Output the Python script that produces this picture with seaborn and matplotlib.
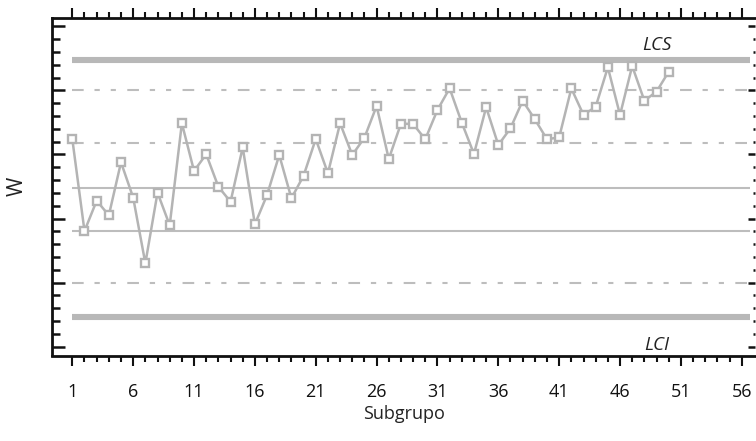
import matplotlib
matplotlib.use("Agg")
import matplotlib.pyplot as plt
from matplotlib.ticker import FixedLocator, MultipleLocator
import numpy as np
import pandas as pd
import seaborn as sns

# ---- data ----
subgroups = list(range(1, 51))
w_values = [16.19, 9.02, 11.39, 10.25, 14.39, 11.63, 6.50, 12.02, 9.47, 17.44,
            13.71, 15.02, 12.48, 11.31, 15.56, 9.55, 11.84, 14.96, 11.58, 13.34,
            16.21, 13.53, 17.44, 14.96, 16.31, 18.79, 14.65, 17.41, 17.38, 16.19,
            18.48, 20.17, 17.48, 15.04, 18.69, 15.74, 17.05, 19.20, 17.75, 16.19,
            16.34, 20.16, 18.09, 18.73, 21.81, 18.09, 21.91, 19.20, 19.91, 21.47]
lcs = 22.4
lci = 2.3
center_line = 12.4
upper_warn = 20.0
upper_sigma = 15.9
lower_sigma = 9.0
lower_warn = 5.0
x_tick_labels = [1, 6, 11, 16, 21, 26, 31, 36, 41, 46, 51, 56]
x_label = "Subgrupo"
y_label = "W"
lcs_label = "LCS"
lci_label = "LCI"

sns.set_theme(style="ticks")
plt.rcParams["font.family"] = ["Open Sans", "DejaVu Sans"]
plt.rcParams["lines.scale_dashes"] = False

W, H = 756, 441
fig = plt.figure(figsize=(W / 100, H / 100), dpi=100)
ax = fig.add_axes([52 / W, (H - 355.5) / H, (755 - 52) / W, (355.5 - 17.5) / H])

gray = "#b4b4b4"
x_end = 56.7

# control limits
ax.hlines([lcs, lci], 1, x_end, colors="#b8b8b8", linewidth=4.4, zorder=1)
dash = (0, (8.4, 7.8, 3.8, 7.9, 3.7, 8.2))
for yv in (upper_warn, upper_sigma, lower_warn):
    ax.plot([1, x_end], [yv, yv], color="#bdbdbd", linewidth=1.5,
            linestyle=dash, zorder=1)
ax.hlines([center_line, lower_sigma], 1, x_end, colors="#bdbdbd",
          linewidth=1.5, zorder=1)

df = pd.DataFrame({"Subgrupo": subgroups, "W": w_values})
sns.lineplot(data=df, x="Subgrupo", y="W", ax=ax, color=gray, linewidth=1.8,
             marker="s", markersize=6.3, markerfacecolor="white",
             markeredgecolor=gray, markeredgewidth=1.7, zorder=3)

ax.set_xlim(-0.67, 57.09)
ax.set_ylim(-0.7, 25.7)

# ticks
ax.xaxis.set_major_locator(FixedLocator(x_tick_labels))
ax.xaxis.set_minor_locator(FixedLocator(list(range(1, 57))))
ax.set_xticklabels([str(v) for v in x_tick_labels])
ax.yaxis.set_major_locator(MultipleLocator(5))
ax.yaxis.set_minor_locator(MultipleLocator(1))
ax.set_yticklabels([])

ax.tick_params(axis="x", which="major", direction="out", length=7.5, width=1.5,
               top=True, bottom=True, labelsize=13, pad=12, colors="#111111")
ax.tick_params(axis="x", which="minor", direction="out", length=4.5, width=1.5,
               top=True, bottom=True, colors="#111111")
ax.tick_params(axis="y", which="major", direction="in", length=9.5, width=1.8,
               left=True, right=False, labelleft=False, colors="#111111")
ax.tick_params(axis="y", which="minor", direction="in", length=6, width=1.8,
               left=True, right=False, colors="#111111")

# right-side short ticks
sec = ax.secondary_yaxis("right")
sec.yaxis.set_major_locator(MultipleLocator(5))
sec.yaxis.set_minor_locator(MultipleLocator(1))
sec.tick_params(which="major", direction="in", length=5, width=1.8, labelright=False,
                colors="#111111")
sec.tick_params(which="minor", direction="in", length=1.5, width=1.8, colors="#111111")
sec.spines["right"].set_visible(False)

for side in ("left", "bottom", "top"):
    ax.spines[side].set_linewidth(2.0)
    ax.spines[side].set_color("#111111")
ax.spines["right"].set_visible(False)

ax.set_xlabel(x_label, fontsize=13, labelpad=3, color="#222222")
ax.set_ylabel(y_label, fontsize=15, labelpad=14, color="#222222")

ax.text(49.0, 23.55, lcs_label, fontsize=13.5, style="italic", ha="center",
        va="center", color="#222222")
ax.text(49.0, 0.1, lci_label, fontsize=13.5, style="italic", ha="center",
        va="center", color="#222222")

fig.savefig("out.png", dpi=100)
